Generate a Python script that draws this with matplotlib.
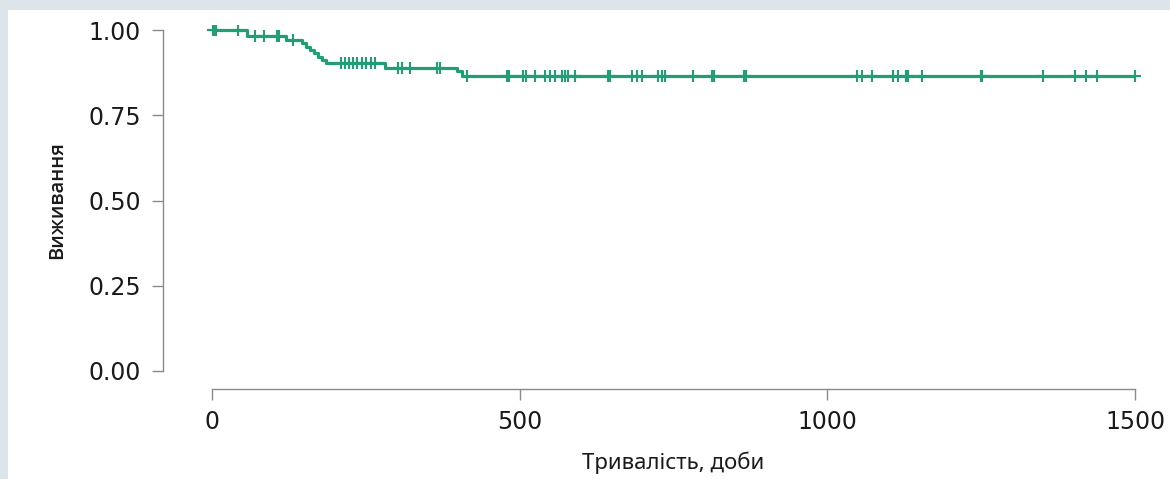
import numpy as np
import matplotlib
matplotlib.use("Agg")
import matplotlib.pyplot as plt
from matplotlib.patches import Rectangle

# Kaplan-Meier step curve (event times, survival after each step)
event_times = [0, 57, 120, 146, 153, 160, 166, 172, 178, 186, 281, 398, 406]
survival = [1.000, 0.982, 0.971, 0.961, 0.951, 0.942, 0.932, 0.922, 0.912, 0.903, 0.889, 0.879, 0.866]

# censored observations (days)
censor_times = [2, 4, 6, 42, 70, 84, 106, 109, 132,
                210, 216, 222, 229, 236, 243, 250, 258, 265,
                302, 309, 322, 366, 371, 414,
                480, 483, 506, 511, 525, 541, 549, 557, 568, 574, 579, 590,
                643, 646, 682, 690, 698, 725, 731, 736, 782, 813, 816, 865, 868,
                1048, 1056, 1073, 1107, 1115, 1128, 1131, 1154, 1250, 1252,
                1351, 1403, 1420, 1438, 1500]

x_ticks = [0, 500, 1000, 1500]
y_ticks = [0.00, 0.25, 0.50, 0.75, 1.00]
y_tick_labels = ["0.00", "0.25", "0.50", "0.75", "1.00"]
x_label = "Тривалість, доби"
y_label = "Виживання"

curve_color = "#1f9e77"
spine_color = "#8a8a8a"
band_color = "#dbe5ea"

W, H = 1170, 479
fig = plt.figure(figsize=(W / 100, H / 100), dpi=100)
fig.patch.set_facecolor("white")

# light frame band (top and left)
fig.patches.append(Rectangle((0, 1 - 10 / H), 1, 10 / H, transform=fig.transFigure,
                             facecolor=band_color, edgecolor="none", zorder=0))
fig.patches.append(Rectangle((0, 0), 8 / W, 1, transform=fig.transFigure,
                             facecolor=band_color, edgecolor="none", zorder=0))

left_px, right_px, top_px, bottom_px = 163, 1140, 25, 389
ax = fig.add_axes([left_px / W, (H - bottom_px) / H,
                   (right_px - left_px) / W, (bottom_px - top_px) / H])
ax.set_facecolor("none")

# data range mapping: x 0 at px 212, 1500 at px 1135 ; y 0 at px 371, 1 at px 30
xpx = (1135 - 212) / 1500.0
ax.set_xlim(-(212 - left_px) / xpx, 1500 + (right_px - 1135) / xpx)
ypx = (371 - 30) / 1.0
ax.set_ylim(-(bottom_px - 371) / ypx, 1 + (30 - top_px) / ypx)

t_end = max(censor_times)
xs = list(event_times) + [t_end]
ys = list(survival) + [survival[-1]]
ax.step(xs, ys, where="post", color=curve_color, lw=2.3, solid_capstyle="butt", zorder=3)

ct = np.array(censor_times)
idx = np.searchsorted(np.array(event_times), ct, side="right") - 1
cy = np.array(survival)[idx]
ax.plot(ct, cy, linestyle="none", marker="+", markersize=9, markeredgewidth=1.5,
        color=curve_color, zorder=4)

for s in ["top", "right"]:
    ax.spines[s].set_visible(False)
for s in ["left", "bottom"]:
    ax.spines[s].set_color(spine_color)
    ax.spines[s].set_linewidth(1.0)
ax.spines["left"].set_bounds(0, 1)
ax.spines["bottom"].set_bounds(0, 1500)

ax.set_xticks(x_ticks)
ax.set_xticklabels([str(v) for v in x_ticks])
ax.set_yticks(y_ticks)
ax.set_yticklabels(y_tick_labels)
ax.tick_params(axis="both", direction="out", length=8, width=1.0, color=spine_color,
               labelsize=17, labelcolor="#1a1a1a")
ax.tick_params(axis="y", pad=8)
ax.tick_params(axis="x", pad=7)
for lab in ax.get_xticklabels() + ax.get_yticklabels():
    lab.set_family("DejaVu Sans")

ax.set_xlabel(x_label, family="Noto Sans", fontsize=16, color="#1a1a1a")
ax.xaxis.set_label_coords(((212 + 1135) / 2 - left_px) / (right_px - left_px),
                          (bottom_px - 463) / (bottom_px - top_px))
ax.xaxis.label.set_va("center")
ax.set_ylabel(y_label, family="Open Sans", fontweight="semibold", fontsize=14.5, color="#1a1a1a")
ax.yaxis.set_label_coords((57 - left_px) / (right_px - left_px),
                          (bottom_px - 200) / (bottom_px - top_px))
ax.yaxis.label.set_va("center")

fig.savefig("out.png", dpi=100, facecolor=fig.get_facecolor())
